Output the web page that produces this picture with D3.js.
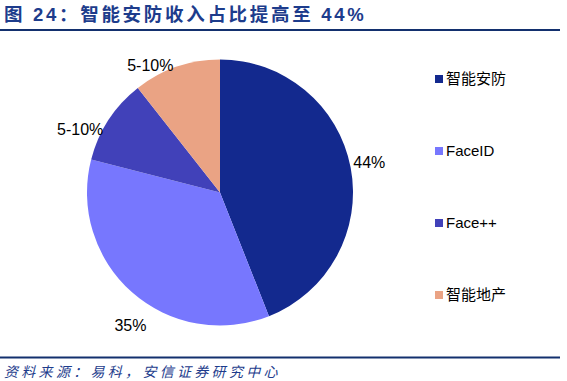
<!DOCTYPE html>
<html>
<head>
<meta charset="utf-8">
<script src="https://cdn.jsdelivr.net/npm/d3@7"></script>
<style>
  html, body { margin: 0; padding: 0; background: #fff; }
  svg { display: block; }
</style>
</head>
<body>
<svg id="chart" width="567" height="381"></svg>
<script>
// ---- data ----
const categories = ["智能安防", "FaceID", "Face++", "智能地产"];
const shares = [44, 35, 10.4, 10.6];
const labels = ["44%", "35%", "5-10%", "5-10%"];
const titleText = "图 24：智能安防收入占比提高至 44%";
const sourceText = "资料来源：易科，安信证券研究中心";

// ---- style / layout ----
const colors = ["#13298e", "#7777fe", "#4141b9", "#eaa384"];
const W = 567, H = 381;
const cx = 220, cy = 192.5, R = 133;
const labelR = 152;
const labelNudge = [[0, -1.5], [11, 18.5], [-12.5, 20], [-20, 17]];
const latin = "'Liberation Sans', Arial, sans-serif";
const cjk = "'Liberation Sans', 'Noto Sans CJK SC', sans-serif";

const svg = d3.select("#chart");

// title
svg.append("text")
  .attr("x", 4).attr("y", 21)
  .attr("font-family", cjk)
  .attr("font-weight", "bold")
  .attr("font-size", 18.5)
  .attr("letter-spacing", 2.7)
  .attr("fill", "#1d3c8c")
  .text(titleText);

svg.append("line")
  .attr("x1", 0).attr("x2", 560).attr("y1", 30).attr("y2", 30)
  .attr("stroke", "#13306e").attr("stroke-width", 2.2);

svg.append("line")
  .attr("x1", 0).attr("x2", 560).attr("y1", 357.5).attr("y2", 357.5)
  .attr("stroke", "#13306e").attr("stroke-width", 2.2);

svg.append("text")
  .attr("x", 4).attr("y", 377)
  .attr("font-family", "'Noto Sans CJK SC', sans-serif")
  .attr("font-style", "italic")
  .attr("font-size", 14)
  .attr("letter-spacing", 3.3)
  .attr("fill", "#1d3c8c")
  .text(sourceText);

// pie
const pie = d3.pie().sort(null).value(d => d)(shares);
const arc = d3.arc().innerRadius(0).outerRadius(R);
const g = svg.append("g").attr("transform", `translate(${cx},${cy})`);

g.selectAll("path.slice")
  .data(pie)
  .join("path")
  .attr("class", "slice")
  .attr("d", arc)
  .attr("fill", (d, i) => colors[i]);

g.selectAll("text.lbl")
  .data(pie)
  .join("text")
  .attr("class", "lbl")
  .attr("x", (d, i) => {
    const a = (d.startAngle + d.endAngle) / 2;
    return labelR * Math.sin(a) + labelNudge[i][0];
  })
  .attr("y", (d, i) => {
    const a = (d.startAngle + d.endAngle) / 2;
    return -labelR * Math.cos(a) + labelNudge[i][1];
  })
  .attr("text-anchor", "middle")
  .attr("dy", "0.35em")
  .attr("font-family", latin)
  .attr("font-size", 16)
  .attr("fill", "#000")
  .text((d, i) => labels[i]);

// legend
const legY = d3.scalePoint().domain(categories).range([79, 295]);
const leg = svg.append("g");
const items = leg.selectAll("g").data(categories).join("g")
  .attr("transform", d => `translate(435,${legY(d)})`);
items.append("rect")
  .attr("x", 0).attr("y", -4).attr("width", 8).attr("height", 8)
  .attr("fill", (d, i) => colors[i]);
items.append("text")
  .attr("x", 11).attr("y", 0).attr("dy", "0.36em")
  .attr("font-family", cjk)
  .attr("font-size", 15)
  .attr("fill", "#000")
  .text(d => d);
</script>
</body>
</html>
